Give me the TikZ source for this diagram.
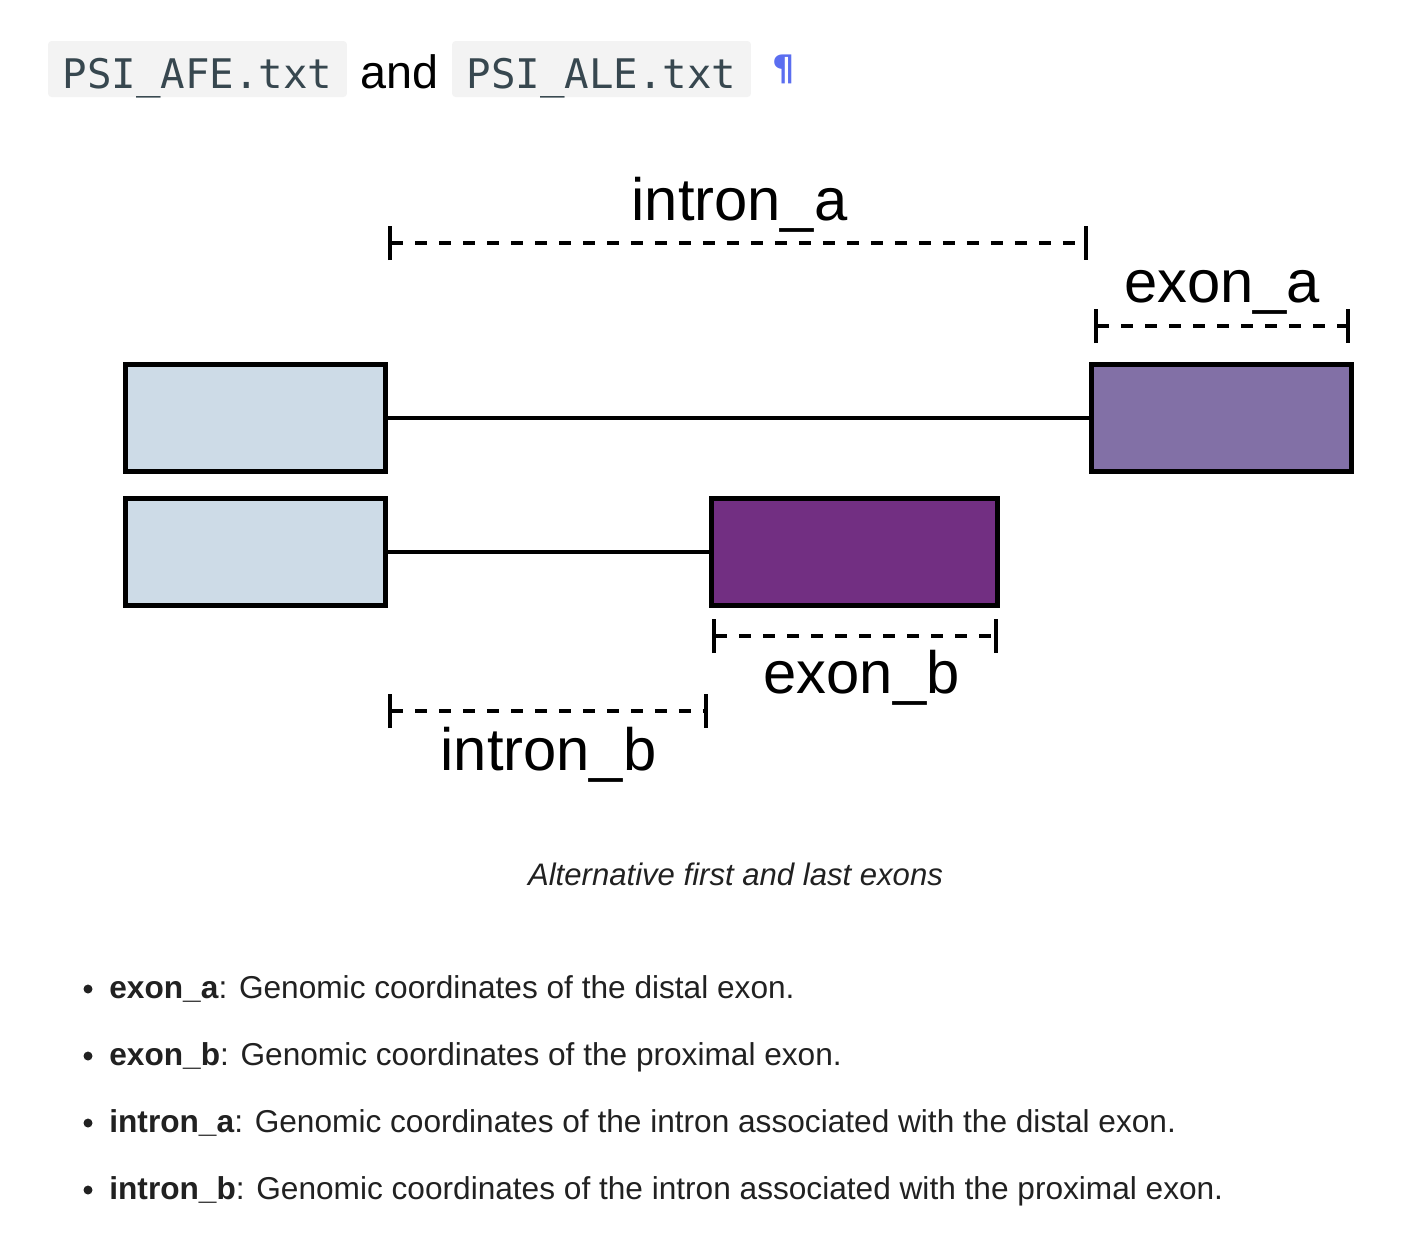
\documentclass[tikz,border=0pt]{standalone}
\usepackage{fontspec}
\setmainfont{Liberation Sans}
\newfontfamily\codefont{DejaVu Sans Mono}
\newfontfamily\markfont{DejaVu Sans}
\usepackage{tikz}
\usetikzlibrary{positioning}
\usetikzlibrary{arrows.meta}
\definecolor{firstexon}{HTML}{CDDBE7}
\definecolor{distalexon}{HTML}{8270A6}
\definecolor{proximalexon}{HTML}{722F82}
\definecolor{codebg}{HTML}{F3F3F3}
\definecolor{codefg}{HTML}{37474F}
\definecolor{pilcrow}{HTML}{5B6EF0}
\definecolor{bodytext}{HTML}{212121}

\begin{document}
\begin{tikzpicture}[x=0.02cm,y=-0.02cm,node distance=0.54cm,
		exon/.style={draw,line width=2.8pt,minimum height=2.14cm,outer sep=0pt,inner sep=0pt},
		span/.style={line width=2.3pt,dash pattern=on 0.24cm off 0.24cm,{Bar[width=0.68cm]}-{Bar[width=0.68cm]}},
		lbl/.style={anchor=base,inner sep=0pt,font=\fontsize{34}{40}\selectfont},
		codebox/.style={fill=codebg,rounded corners=2pt,minimum width=5.98cm,minimum height=1.12cm,inner sep=0pt,
			text height=0.76cm,text depth=0pt,text=codefg,font=\codefont\fontsize{23.2}{28}\selectfont},
		item/.style={anchor=base west,inner sep=0pt,text=bodytext,font=\fontsize{18}{22}\selectfont},
		dot/.style={circle,fill=bodytext,inner sep=0pt,minimum size=0.18cm}]
		\useasboundingbox (0,0) rectangle (1408,1232);
		% header
		\node [codebox] (afe) at (197.5,69) {PSI\_AFE.txt};
		\node [anchor=base,inner sep=0pt,font=\fontsize{26.6}{32}\selectfont] (and) at (399.5,88) {and};
		\node [codebox] (ale) at (601.5,69) {PSI\_ALE.txt};
		\node [text=pilcrow,inner sep=0pt,font=\markfont\bfseries\fontsize{20}{24}\selectfont] (para) at (784,69) {¶};
		% exons
		\node [exon,fill=firstexon,minimum width=5.2cm] (first1) at (255.5,418) {};
		\node [exon,fill=firstexon,minimum width=5.2cm,below=of first1] (first2) {};
		\node [exon,fill=distalexon,minimum width=5.2cm,right=14.12cm of first1] (distal) {};
		\node [exon,fill=proximalexon,minimum width=5.72cm,right=6.52cm of first2] (proximal) {};
		\draw [line width=2.3pt] (first1) -- (distal);
		\draw [line width=2.3pt] (first2) -- (proximal);
		% spans
		\coordinate (ia1) at (388,243);
		\coordinate (ia2) at (1088,243);
		\coordinate (ea1) at (1094,326);
		\coordinate (ea2) at (1350,326);
		\coordinate (eb1) at (712,636);
		\coordinate (eb2) at (998,636);
		\coordinate (ib1) at (388,711);
		\coordinate (ib2) at (708,711);
		\draw [span] (ia1) -- (ia2);
		\draw [span] (ea1) -- (ea2);
		\draw [span] (eb1) -- (eb2);
		\draw [span] (ib1) -- (ib2);
		\node [lbl] (intronalbl) at (739.5,220) {intron\_a};
		\node [lbl] (exonalbl) at (1222,302) {exon\_a};
		\node [lbl] (exonblbl) at (861.5,693) {exon\_b};
		\node [lbl] (intronblbl) at (548.5,770) {intron\_b};
		% caption
		\node [anchor=base,inner sep=0pt,text=bodytext,font=\itshape\fontsize{17.7}{22}\selectfont] (caption) at (735.5,885) {Alternative first and last exons};
		% list
		\node [dot] (dot1) at (88,989) {};
		\node [dot] (dot2) at (88,1056) {};
		\node [dot] (dot3) at (88,1123) {};
		\node [dot] (dot4) at (88,1190) {};
		\node [item] (item1) at (109,998) {\textbf{exon\_a}: Genomic coordinates of the distal exon.};
		\node [item] (item2) at (109,1065) {\textbf{exon\_b}: Genomic coordinates of the proximal exon.};
		\node [item] (item3) at (109,1132) {\textbf{intron\_a}: Genomic coordinates of the intron associated with the distal exon.};
		\node [item] (item4) at (109,1199) {\textbf{intron\_b}: Genomic coordinates of the intron associated with the proximal exon.};
	\end{tikzpicture}
\end{document}
